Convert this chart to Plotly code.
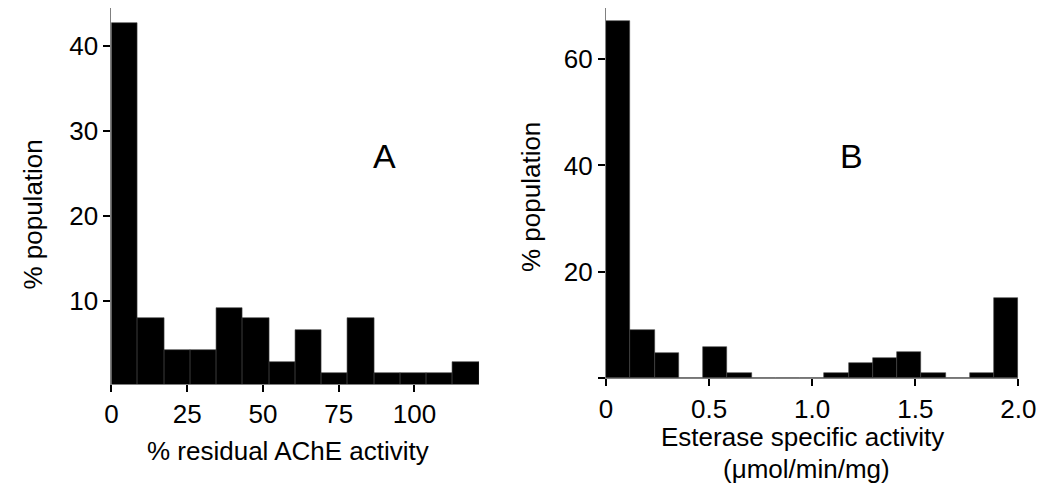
import numpy as np
import plotly.graph_objects as go

# ---- Data ----
# Panel A: % residual AChE activity histogram
ache_bin_width = 8.66
ache_pct = [42.7, 8.0, 4.2, 4.2, 9.2, 8.0, 2.75, 6.6, 1.5, 8.0, 1.5, 1.5, 1.5, 2.75]
ache_ticks = [0, 25, 50, 75, 100]

# Panel B: Esterase specific activity histogram (umol/min/mg)
est_bin_width = 2.0 / 17
est_pct = [67.2, 9.0, 4.8, 0, 5.9, 1.0, 0, 0, 0, 1.0, 2.9, 3.9, 4.9, 1.0, 0, 1.0, 15.0]
est_tickvals = [0, 0.5, 1.0, 1.5, 2.0]
est_ticktext = ["0", "0.5", "1.0", "1.5", "2.0"]

W, H = 1057, 490
PAGE_OFFSET = 8  # default page body margin in the browser
FONT = "Liberation Sans, Arial, sans-serif"
TICK_SIZE = 26
TITLE_SIZE = 26

ache_left = np.arange(len(ache_pct)) * ache_bin_width
est_left = np.arange(len(est_pct)) * est_bin_width

fig = go.Figure()
fig.add_trace(go.Bar(
    x=ache_left, y=ache_pct, width=ache_bin_width, offset=0,
    marker=dict(color="black", line=dict(color="#444444", width=0.6)),
    xaxis="x", yaxis="y", showlegend=False,
))
fig.add_trace(go.Bar(
    x=est_left, y=est_pct, width=est_bin_width, offset=0,
    marker=dict(color="black", line=dict(color="#444444", width=0.6)),
    xaxis="x2", yaxis="y2", showlegend=False,
))

axis_common = dict(
    showline=True, linecolor="#808080", linewidth=1,
    ticks="outside", tickcolor="black", tickwidth=2, ticklen=7,
    showgrid=False, zeroline=False,
    tickfont=dict(family=FONT, size=TICK_SIZE, color="black"),
)

def px_x(p):
    return min(1.0, max(0.0, (p - PAGE_OFFSET) / W))

def px_y(p):
    return min(1.0, max(0.0, 1 - (p - PAGE_OFFSET) / H))

fig.update_layout(
    width=W, height=H, autosize=False,
    margin=dict(l=0, r=0, t=0, b=0),
    paper_bgcolor="white", plot_bgcolor="white",
    bargap=0,
    font=dict(family=FONT, color="black"),
    xaxis=dict(domain=[px_x(106.7), px_x(483.3)], range=[0, 121.3],
               tickvals=ache_ticks, anchor="y", **axis_common),
    yaxis=dict(domain=[px_y(384), px_y(8)], range=[0.19, 44.48],
               tickvals=[10, 20, 30, 40], anchor="x", **axis_common),
    xaxis2=dict(domain=[px_x(613.3), px_x(1035.7)], range=[0, 2.0],
                tickvals=est_tickvals, ticktext=est_ticktext, anchor="y2", **axis_common),
    yaxis2=dict(domain=[px_y(378.3), px_y(8)], range=[0, 69.6],
                tickvals=[0, 20, 40, 60], ticktext=["", "20", "40", "60"],
                anchor="x2", **axis_common),
)

annots = [
    dict(text="% residual AChE activity", x=px_x(288), y=px_y(451), size=TITLE_SIZE, angle=0),
    dict(text="Esterase specific activity", x=px_x(815), y=px_y(437), size=TITLE_SIZE, angle=0),
    dict(text="(\u03bcmol/min/mg)", x=px_x(819), y=px_y(469), size=TITLE_SIZE, angle=0),
    dict(text="% population", x=px_x(26), y=px_y(215), size=TITLE_SIZE, angle=-90),
    dict(text="% population", x=px_x(536), y=px_y(197.5), size=TITLE_SIZE, angle=-90),
    dict(text="A", x=px_x(386.5), y=px_y(156), size=34, angle=0),
    dict(text="B", x=px_x(864.5), y=px_y(156), size=34, angle=0),
]
for a in annots:
    fig.add_annotation(
        text=a["text"], x=a["x"], y=a["y"], xref="paper", yref="paper",
        xanchor="center", yanchor="middle", showarrow=False,
        textangle=a["angle"], font=dict(family=FONT, size=a["size"], color="black"),
    )

fig.write_html(
    "out.html",
    config={"displayModeBar": False},
)
